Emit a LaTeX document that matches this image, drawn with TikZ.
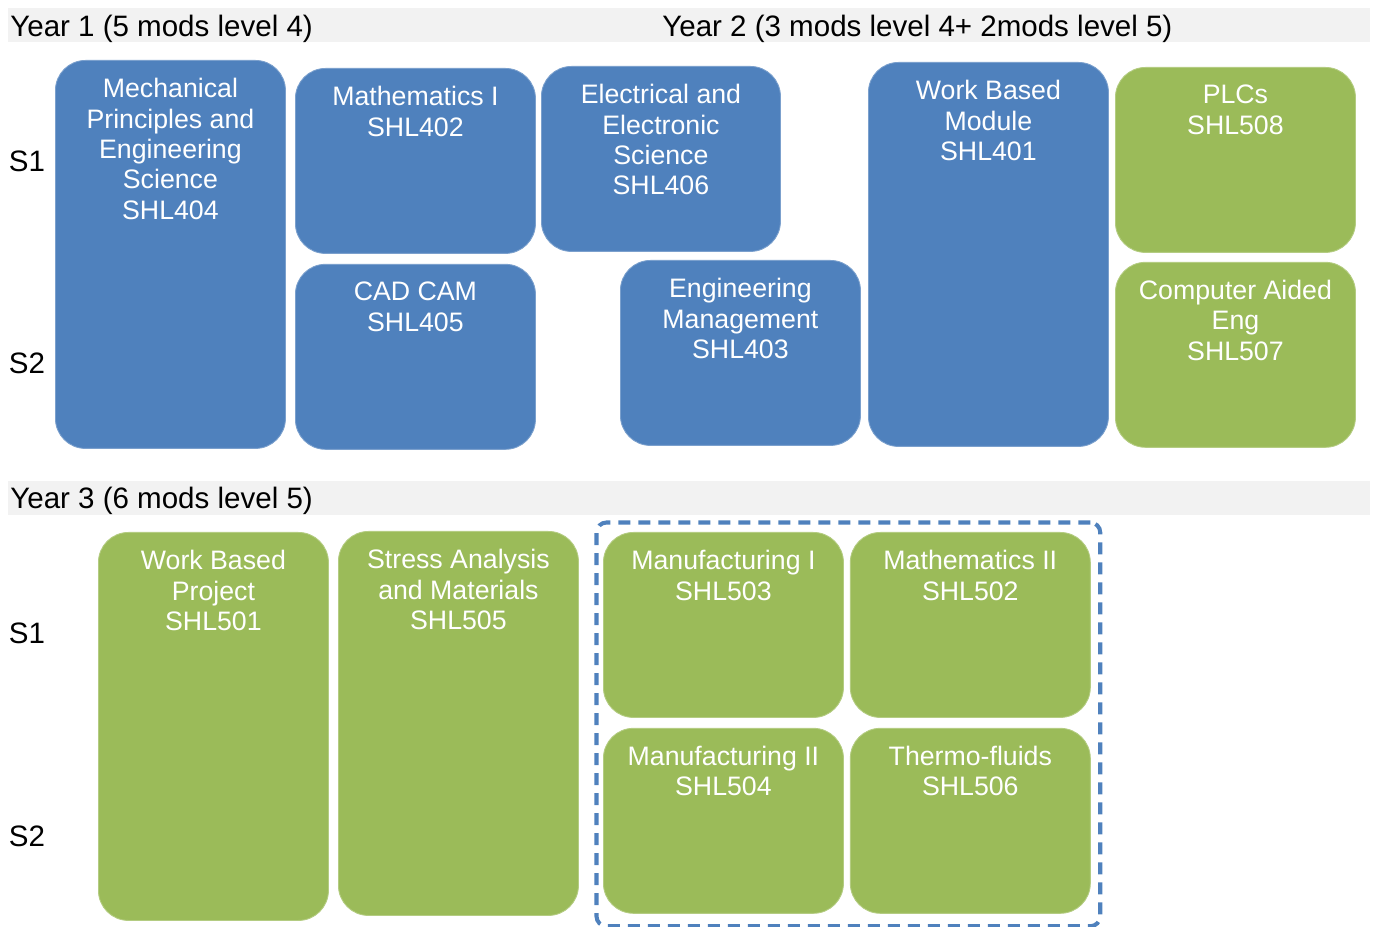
\documentclass[tikz,border=0pt]{standalone}
\usepackage{fontspec}
\setmainfont{Liberation Sans}
\usetikzlibrary{positioning,fit}
\definecolor{modblue}{HTML}{4F81BD}
\definecolor{modgreen}{HTML}{9BBB59}
\definecolor{bandgray}{HTML}{F2F2F2}
\newcommand{\levelfourcolor}[0]{modblue}
\newcommand{\levelfivecolor}[0]{modgreen}
\newcommand{\modfont}[0]{\fontsize{15.2}{17.3}\selectfont}
\newcommand{\headfont}[0]{\fontsize{16.8}{19}\selectfont}

\begin{document}
\begin{tikzpicture}[
    module/.style={rectangle, rounded corners=0.6cm, draw=#1!75!white, fill=#1, line width=0.5pt,
        minimum width=4.8cm, minimum height=3.7cm, anchor=north west, inner sep=0pt},
    tall/.style={minimum height=7.7cm},
    modtext/.style={inner sep=0pt, align=center, text=white, font=\modfont},
    band/.style={rectangle, fill=bandgray, minimum width=27.24cm, minimum height=0.68cm,
        anchor=north west, inner sep=0pt},
    header/.style={inner sep=0pt, anchor=west, font=\headfont},
    semester/.style={inner sep=0pt, font=\headfont}
]
    \useasboundingbox (0,0) rectangle (27.5,-18.54);

    % year 1 and 2
    \node[band] (band12) at (0.16,-0.16) {};
    \node[header] (year1) at (0.2,-0.58) {Year 1 (5 mods level 4)};
    \node[header] (year2) at (13.24,-0.58) {Year 2 (3 mods level 4+ 2mods level 5)};
    \node[semester] (s1a) at (0.54,-3.22) {S1};
    \node[semester] (s2a) at (0.54,-7.26) {S2};

    \node[module=\levelfourcolor, tall, minimum width=4.6cm, minimum height=7.76cm]
        (shl404) at (1.10,-1.20) {};
    \node[module=\levelfourcolor] (shl402) at (5.90,-1.36) {};
    \node[module=\levelfourcolor, below=0.2cm of shl402.south west, anchor=north west]
        (shl405) {};
    \node[module=\levelfourcolor, minimum width=4.78cm] (shl406) at (10.82,-1.32) {};
    \node[module=\levelfourcolor] (shl403) at (12.40,-5.20) {};
    \node[module=\levelfourcolor, tall, minimum height=7.68cm] (shl401) at (17.36,-1.24) {};
    \node[module=\levelfivecolor] (shl508) at (22.30,-1.34) {};
    \node[module=\levelfivecolor, below=0.18cm of shl508.south west, anchor=north west]
        (shl507) {};

    \node[modtext, below=0.36cm of shl404.north]
        (shl404-text) {Mechanical\\Principles and\\Engineering\\Science\\SHL404};
    \node[modtext, below=0.36cm of shl402.north]
        (shl402-text) {Mathematics I\\SHL402};
    \node[modtext, below=0.36cm of shl405.north]
        (shl405-text) {CAD CAM\\SHL405};
    \node[modtext, below=0.36cm of shl406.north]
        (shl406-text) {Electrical and\\Electronic\\Science\\SHL406};
    \node[modtext, below=0.36cm of shl403.north]
        (shl403-text) {Engineering\\Management\\SHL403};
    \node[modtext, below=0.36cm of shl401.north]
        (shl401-text) {Work Based\\Module\\SHL401};
    \node[modtext, below=0.36cm of shl508.north]
        (shl508-text) {PLCs\\SHL508};
    \node[modtext, below=0.36cm of shl507.north]
        (shl507-text) {Computer Aided\\Eng\\SHL507};

    % year 3
    \node[band] (band3) at (0.16,-9.62) {};
    \node[header] (year3) at (0.2,-10.02) {Year 3 (6 mods level 5)};
    \node[semester] (s1b) at (0.54,-12.66) {S1};
    \node[semester] (s2b) at (0.54,-16.72) {S2};

    \node[module=\levelfivecolor, tall, minimum width=4.6cm, minimum height=7.76cm]
        (shl501) at (1.96,-10.64) {};
    \node[module=\levelfivecolor, tall, minimum height=7.68cm] (shl505) at (6.76,-10.62) {};
    \node[module=\levelfivecolor] (shl503) at (12.06,-10.64) {};
    \node[module=\levelfivecolor, right=0.12cm of shl503.north east, anchor=north west]
        (shl502) {};
    \node[module=\levelfivecolor, below=0.2cm of shl503.south west, anchor=north west]
        (shl504) {};
    \node[module=\levelfivecolor, right=0.12cm of shl504.north east, anchor=north west]
        (shl506) {};
    \node[fit=(shl503)(shl506), draw=modblue, line width=2.3pt, dash pattern=on 0.24cm off 0.16cm,
        rounded corners=0.2cm, inner xsep=0.16cm, inner ysep=0.22cm, xshift=0.03cm, yshift=-0.03cm]
        (core) {};

    \node[modtext, below=0.36cm of shl501.north]
        (shl501-text) {Work Based\\Project\\SHL501};
    \node[modtext, below=0.36cm of shl505.north]
        (shl505-text) {Stress Analysis\\and Materials\\SHL505};
    \node[modtext, below=0.36cm of shl503.north]
        (shl503-text) {Manufacturing I\\SHL503};
    \node[modtext, below=0.36cm of shl502.north]
        (shl502-text) {Mathematics II\\SHL502};
    \node[modtext, below=0.36cm of shl504.north]
        (shl504-text) {Manufacturing II\\SHL504};
    \node[modtext, below=0.36cm of shl506.north]
        (shl506-text) {Thermo-fluids\\SHL506};
\end{tikzpicture}
\end{document}
